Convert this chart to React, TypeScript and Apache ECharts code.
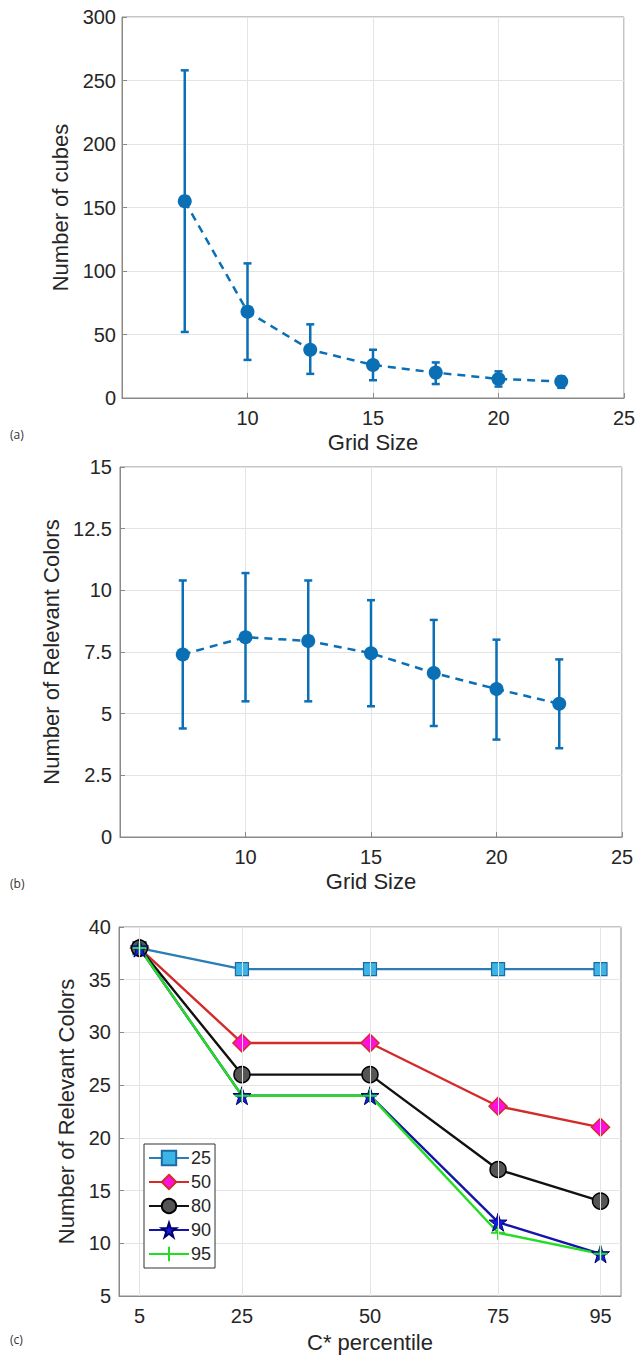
import React, { useEffect, useRef } from "react";
import * as echarts from "echarts";

// ---- Data ----
const gridSizes = [7.5, 10, 12.5, 15, 17.5, 20, 22.5];
const cubesMean = [155, 68, 38, 26, 20, 15, 13];
const cubesLow = [52, 30, 19, 14, 11, 9, 8];
const cubesHigh = [258, 106, 58, 38, 28, 21, 17];

const colorsMean = [7.4, 8.1, 7.95, 7.45, 6.65, 6.0, 5.4];
const colorsLow = [4.4, 5.5, 5.5, 5.3, 4.5, 3.95, 3.6];
const colorsHigh = [10.4, 10.7, 10.4, 9.6, 8.8, 8.0, 7.2];

const percentiles = [5, 25, 50, 75, 95];
const seriesNames = ["25", "50", "80", "90", "95"];
const s25 = [38, 36, 36, 36, 36];
const s50 = [38, 29, 29, 23, 21];
const s80 = [38, 26, 26, 17, 14];
const s90 = [38, 24, 24, 12, 9];
const s95 = [38, 24, 24, 11, 9];

const yTicksA = { min: 0, max: 300, interval: 50 };
const yTicksB = { min: 0, max: 15, interval: 2.5 };
const yTicksC = { min: 5, max: 40, interval: 5 };

const FONT = "Liberation Sans, Arial, Helvetica, sans-serif";
const BLUE = "#0a6fb5";
const AXIS = "#8a8a8a";
const TXT = "#262626";
const SPLIT = "#e4e4e4";

const STAR =
  "path://M50,0 L61.8,35.5 L99,35.5 L69,57.5 L80.4,93 L50,71 L19.6,93 L31,57.5 L1,35.5 L38.2,35.5 Z";
const PLUS =
  "path://M43,0 L57,0 L57,43 L100,43 L100,57 L57,57 L57,100 L43,100 L43,57 L0,57 L0,43 L43,43 Z";

function errorBarSeries(xIdx: number, lows: number[], highs: number[]) {
  return {
    type: "custom",
    xAxisIndex: xIdx,
    yAxisIndex: xIdx,
    data: gridSizes.map((x, i) => [x, lows[i], highs[i]]),
    encode: { x: 0, y: [1, 2] },
    silent: true,
    renderItem: (_p: any, api: any) => {
      const x = api.value(0);
      const pLo = api.coord([x, api.value(1)]);
      const pHi = api.coord([x, api.value(2)]);
      const hw = 4;
      const style = { stroke: BLUE, lineWidth: 2.5, fill: "none" };
      return {
        type: "group",
        children: [
          { type: "line", shape: { x1: pLo[0], y1: pLo[1], x2: pHi[0], y2: pHi[1] }, style },
          { type: "line", shape: { x1: pLo[0] - hw, y1: pLo[1], x2: pLo[0] + hw, y2: pLo[1] }, style },
          { type: "line", shape: { x1: pHi[0] - hw, y1: pHi[1], x2: pHi[0] + hw, y2: pHi[1] }, style },
        ],
      };
    },
  };
}

function meanSeries(idx: number, values: number[]) {
  return {
    type: "line",
    xAxisIndex: idx,
    yAxisIndex: idx,
    data: gridSizes.map((x, i) => [x, values[i]]),
    symbol: "circle",
    symbolSize: 14,
    itemStyle: { color: BLUE },
    lineStyle: { color: BLUE, width: 2.5, type: [8, 6] },
    silent: true,
  };
}

const axisLabelStyle = { color: TXT, fontSize: 20, fontFamily: FONT };
const nameStyle = { color: TXT, fontSize: 22, fontFamily: FONT };

function gridXAxis(idx: number) {
  return {
    type: "value",
    gridIndex: idx,
    min: 5,
    max: 25,
    interval: 5,
    name: "Grid Size",
    nameLocation: "middle",
    nameGap: 33,
    nameTextStyle: nameStyle,
    axisLine: { show: true, onZero: false, lineStyle: { color: AXIS } },
    axisTick: { show: true, inside: true, length: 5, lineStyle: { color: AXIS } },
    axisLabel: {
      ...axisLabelStyle,
      margin: 10,
      formatter: (v: number) => (v === 5 ? "" : String(v)),
    },
    splitLine: { show: true, lineStyle: { color: SPLIT } },
  };
}

function yAxis(idx: number, ticks: any, name: string, gap: number, margin: number) {
  return {
    type: "value",
    gridIndex: idx,
    ...ticks,
    name,
    nameLocation: "middle",
    nameGap: gap,
    nameTextStyle: nameStyle,
    axisLine: { show: true, onZero: false, lineStyle: { color: AXIS } },
    axisTick: { show: true, inside: true, length: 5, lineStyle: { color: AXIS } },
    axisLabel: { ...axisLabelStyle, margin },
    splitLine: { show: true, lineStyle: { color: SPLIT } },
  };
}

function lineC(name: string, values: number[], lineColor: string, symbol: string, size: number, fill: string, border: string, bw: number) {
  return {
    type: "line",
    name,
    xAxisIndex: 2,
    yAxisIndex: 2,
    data: percentiles.map((p, i) => [p, values[i]]),
    symbol,
    symbolSize: size,
    showAllSymbol: true,
    lineStyle: { color: lineColor, width: 2.4 },
    itemStyle: { color: fill, borderColor: border, borderWidth: bw },
    silent: true,
  };
}

export default function App() {
  const ref = useRef<HTMLDivElement>(null);
  useEffect(() => {
    if (!ref.current) return;
    const chart = echarts.init(ref.current, undefined, { renderer: "svg" });
    const option: any = {
      animation: false,
      backgroundColor: "#ffffff",
      textStyle: { fontFamily: FONT },
      grid: [
        { left: 122, top: 17, width: 502, height: 381, show: true, borderColor: AXIS, borderWidth: 1, backgroundColor: "transparent" },
        { left: 120, top: 467, width: 502, height: 370, show: true, borderColor: AXIS, borderWidth: 1, backgroundColor: "transparent" },
        { left: 119, top: 927, width: 502, height: 369, show: true, borderColor: AXIS, borderWidth: 1, backgroundColor: "transparent" },
      ],
      xAxis: [
        gridXAxis(0),
        gridXAxis(1),
        {
          type: "value",
          gridIndex: 2,
          min: 1,
          max: 99,
          name: "C* percentile",
          nameLocation: "middle",
          nameGap: 35,
          nameTextStyle: nameStyle,
          axisLine: { show: true, onZero: false, lineStyle: { color: AXIS } },
          axisTick: { show: true, inside: true, length: 5, customValues: percentiles, lineStyle: { color: AXIS } },
          axisLabel: { ...axisLabelStyle, margin: 10, customValues: percentiles },
          splitLine: { show: false },
        },
      ],
      yAxis: [
        yAxis(0, yTicksA, "Number of cubes", 41, 6),
        yAxis(1, yTicksB, "Number of Relevant Colors", 49, 8),
        yAxis(2, yTicksC, "Number of Relevant Colors", 30, 8),
      ],
      legend: {
        data: seriesNames,
        orient: "vertical",
        left: 144,
        top: 1144,
        backgroundColor: "#ffffff",
        borderColor: "#333333",
        borderWidth: 1,
        borderRadius: 0,
        padding: [5, 4, 5, 4],
        itemWidth: 40,
        itemHeight: 18,
        itemGap: 6,
        textStyle: { color: TXT, fontSize: 18, fontFamily: FONT, padding: [0, 0, 0, -3] },
        selectedMode: false,
      },
      graphic: [
        { type: "text", left: 10, top: 428, style: { text: "(a)", fontSize: 12, fontFamily: "Open Sans, sans-serif", fill: "#333" } },
        { type: "text", left: 10, top: 877, style: { text: "(b)", fontSize: 12, fontFamily: "Open Sans, sans-serif", fill: "#333" } },
        { type: "text", left: 10, top: 1333, style: { text: "(c)", fontSize: 12, fontFamily: "Open Sans, sans-serif", fill: "#333" } },
      ],
      series: [
        errorBarSeries(0, cubesLow, cubesHigh),
        meanSeries(0, cubesMean),
        errorBarSeries(1, colorsLow, colorsHigh),
        meanSeries(1, colorsMean),
        {
          type: "line",
          name: "gridlines",
          xAxisIndex: 2,
          yAxisIndex: 2,
          z: 1,
          data: percentiles.map((p, i) => [p, s25[i]]),
          showSymbol: false,
          lineStyle: { opacity: 0 },
          silent: true,
          markLine: {
            silent: true,
            symbol: "none",
            label: { show: false },
            lineStyle: { color: SPLIT, width: 1, type: "solid" },
            data: percentiles.map((p) => ({ xAxis: p })),
          },
        },
        lineC("25", s25, "#2a7db5", "rect", 13, "#3cb4e8", "#1e6aa0", 1.2),
        lineC("50", s50, "#d42a2a", "diamond", 18, "#ff10e0", "#d42a2a", 1.5),
        lineC("80", s80, "#111111", "circle", 16, "#555555", "#000000", 1.5),
        lineC("90", s90, "#1414a8", STAR, 18, "#1a1ae0", "#000070", 1),
        lineC("95", s95, "#22dd22", PLUS, 14, "#22dd22", "#22dd22", 0),
      ],
    };
    chart.setOption(option);
    return () => chart.dispose();
  }, []);
  return (
    <div
      ref={ref}
      style={{ position: "absolute", left: 0, top: 0, width: 640, height: 1358, background: "#fff" }}
    />
  );
}
